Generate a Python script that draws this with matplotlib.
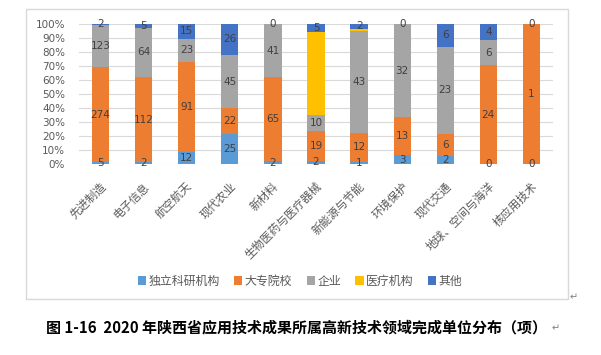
import numpy as np
import matplotlib
matplotlib.use('Agg')
import matplotlib.pyplot as plt
from matplotlib.patches import Rectangle

plt.rcParams['font.family'] = ['Noto Sans CJK SC', 'DejaVu Sans']

categories = ['先进制造', '电子信息', '航空航天', '现代农业', '新材料', '生物医药与医疗器械',
              '新能源与节能', '环境保护', '现代交通', '地球、空间与海洋', '核应用技术']
series_names = ['独立科研机构', '大专院校', '企业', '医疗机构', '其他']
# None = blank cell (no data label)
research = [5, 2, 12, 25, 2, 2, 1, 3, 2, 0, 0]
college = [274, 112, 91, 22, 65, 19, 12, 13, 6, 24, 1]
company = [123, 64, 23, 45, 41, 10, 43, 32, 23, 6, None]
medical = [None, None, None, None, None, 52, 1, None, None, None, None]
other = [2, 5, 15, 26, 0, 5, 2, 0, 6, 4, 0]
colors = ['#5B9BD5', '#ED7D31', '#A5A5A5', '#FFC000', '#4472C4']
show_labels = [True, True, True, False, True]

data = [research, college, company, medical, other]
vals = np.array([[0 if v is None else v for v in s] for s in data], dtype=float)
totals = vals.sum(axis=0)
pct = vals / totals

fig = plt.figure(figsize=(6.01, 3.55), dpi=100)
fig.patches.append(Rectangle((26 / 601, 1 - 299 / 355), 542 / 601, 290 / 355,
                             transform=fig.transFigure, fill=False,
                             edgecolor='#D9D9D9', linewidth=1))
ax = fig.add_axes([79 / 601, 1 - 164 / 355, 474 / 601, 140 / 355])

x = np.arange(len(categories))
bottom = np.zeros(len(categories))
handles = []
for i, name in enumerate(series_names):
    bars = ax.bar(x, pct[i], 0.4, bottom=bottom, color=colors[i], label=name, zorder=2)
    handles.append(bars)
    if show_labels[i]:
        labels = ['' if v is None else str(v) for v in data[i]]
        ax.bar_label(bars, labels=labels, label_type='center', fontsize=7.5,
                     color='#404040', family=['DejaVu Sans'])
    bottom += pct[i]

ax.set_xlim(-0.5, len(categories) - 0.5)
ax.set_ylim(0, 1)
ax.set_yticks(np.arange(0, 1.01, 0.1))
ax.set_yticklabels([f'{int(round(t * 100))}%' for t in np.arange(0, 1.01, 0.1)],
                   fontsize=7.5, color='#595959', family=['DejaVu Sans'])
ax.set_xticks(x)
ax.set_xticklabels(categories, rotation=45, ha='right', rotation_mode='anchor',
                   fontsize=8.2, color='#595959')
ax.tick_params(axis='both', length=0)
ax.tick_params(axis='x', pad=12)
ax.tick_params(axis='y', pad=10)
ax.grid(axis='y', color='#D9D9D9', linewidth=0.8, zorder=0)
for s in ax.spines.values():
    s.set_visible(False)

fig.legend(handles=handles, labels=series_names, loc='center', ncol=5,
           bbox_to_anchor=(300 / 601, 1 - 281 / 355), frameon=False,
           fontsize=8.6, labelcolor='#595959', handlelength=0.7, handleheight=0.7,
           handletextpad=0.2, columnspacing=1.2)

fig.text(297 / 601, 1 - 327 / 355,
         '图 1-16  2020 年陕西省应用技术成果所属高新技术领域完成单位分布（项）',
         ha='center', va='center', fontsize=10.8, fontweight='bold', color='black')
fig.text(552 / 601, 1 - 328 / 355, '↵', ha='left', va='center', fontsize=7,
         color='#808080', family=['DejaVu Sans'])
fig.text(570 / 601, 1 - 297 / 355, '↵', ha='left', va='center', fontsize=7,
         color='#808080', family=['DejaVu Sans'])

fig.savefig('out.png', dpi=100)
